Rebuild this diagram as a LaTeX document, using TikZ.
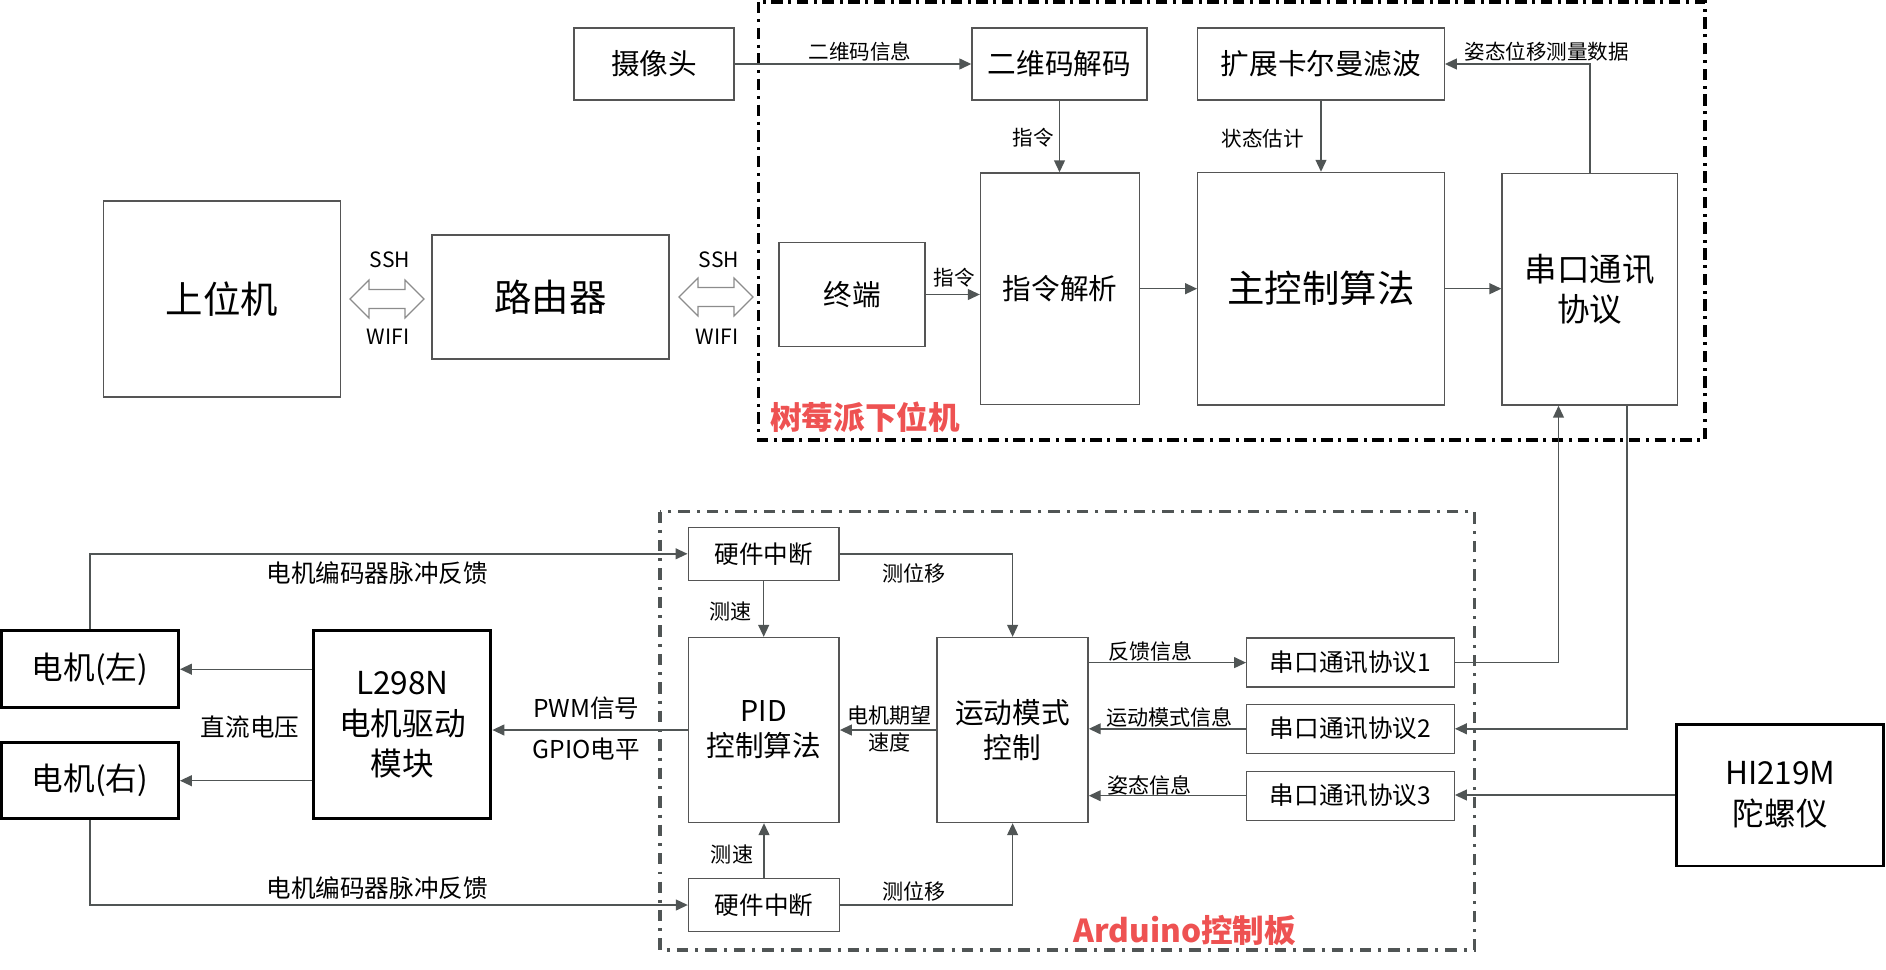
\documentclass[tikz,border=0pt]{standalone}
\usepackage{fontspec}
\setmainfont{Noto Sans CJK SC}
\usepackage{tikz}
\usetikzlibrary{arrows.meta,calc}
\definecolor{boxgray}{RGB}{85,85,85}
\definecolor{linegray}{RGB}{80,85,85}
\definecolor{dblgray}{RGB}{140,140,140}
\definecolor{titlered}{RGB}{238,82,82}

\begin{document}
\begin{tikzpicture}[x=0.02cm, y=-0.02cm,
    box/.style={draw=boxgray, line width=0.8pt, inner sep=0pt, align=center},
    thickbox/.style={draw=black, line width=1.7pt, inner sep=0pt, align=center},
    arr/.style={draw=linegray, line width=0.8pt, -{Triangle[length=6.8pt,width=6.2pt]}},
    dblarr/.style={draw=dblgray, fill=white, line width=0.7pt},
    pibound/.style={draw=black, line width=2pt, dash pattern=on 6.5pt off 3.2pt on 1.7pt off 3.2pt},
    ardbound/.style={draw=linegray, line width=2pt, dash pattern=on 6.5pt off 4pt on 1.7pt off 4pt},
    fbig/.style={font={\fontsize{21.3}{26}\selectfont}},
    fser/.style={font={\fontsize{18.5}{22.8}\selectfont}},
    fmid/.style={font={\fontsize{16.3}{19.9}\selectfont}},
    fmot/.style={font={\fontsize{18}{23.3}\selectfont}},
    fhw/.style={font={\fontsize{14}{17}\selectfont}},
    lab/.style={inner sep=0pt, font={\fontsize{11.7}{14}\selectfont}},
    labsm/.style={inner sep=0pt, font={\fontsize{12}{15.2}\selectfont}},
    labhw/.style={inner sep=0pt, font={\fontsize{14}{17}\selectfont}},
    title/.style={inner sep=0pt, text=titlered, font={\fontsize{18}{22}\selectfont\bfseries}}]
  \useasboundingbox (0,0) rectangle (1886,970);

  % raspberry pi part
  \draw[pibound] (758.7,2) rectangle (1705,440);
  \node (pititle) at (770,417) [title, anchor=west] {树莓派下位机};

  \node (cam)     at (654,64)      [box, fmid, minimum width=3.2cm,  minimum height=1.44cm] {摄像头};
  \node (qrdec)   at (1059.5,64)   [box, fmid, minimum width=3.5cm,  minimum height=1.44cm] {二维码解码};
  \node (ekf)     at (1321,64)     [box, fmid, minimum width=4.93cm, minimum height=1.44cm] {扩展卡尔曼滤波};
  \node (host)    at (222,299)     [box, fbig, minimum width=4.75cm, minimum height=3.92cm] {上位机};
  \node (router)  at (550.5,297)   [box, fbig, minimum width=4.74cm, minimum height=2.48cm] {路由器};
  \node (term)    at (852,294.5)   [box, fmid, minimum width=2.92cm, minimum height=2.09cm] {终端};
  \node (cmd)     at (1060,288.7)  [box, fmid, minimum width=3.18cm, minimum height=4.63cm] {指令解析};
  \node (mainctl) at (1321,288.7)  [box, fbig, minimum width=4.93cm, minimum height=4.65cm] {主控制算法};
  \node (serial)  at (1589.8,289.3)[box, fser, minimum width=3.51cm, minimum height=4.63cm] {串口通讯\\协议};

  \draw[arr] (cam) -- (qrdec);
  \draw[arr] (qrdec.south) -- (qrdec.south |- cmd.north);
  \draw[arr] (ekf.south) -- (ekf.south |- mainctl.north);
  \draw[arr] (serial.north) |- (ekf.east);
  \draw[arr] (term.east) -- (term.east -| cmd.west);
  \draw[arr] (cmd) -- (mainctl);
  \draw[arr] (mainctl.east) -- (mainctl.east -| serial.west);

  \node (lqr)    at (860,51.7)    [lab] {二维码信息};
  \node (lcmda)  at (1033,138)    [lab] {指令};
  \node (lstate) at (1262.6,138.3)[lab] {状态估计};
  \node (lmeas)  at (1546.7,51.7) [lab] {姿态位移测量数据};
  \node (lcmdb)  at (954,278)     [lab] {指令};

  % ssh links
  \foreach \cx/\cy/\nm in {387/299/a, 716/297/b}
  {
    \draw[dblarr] (\cx-37,\cy) -- (\cx-18,\cy-19) -- (\cx-18,\cy-9.5) -- (\cx+18,\cy-9.5)
      -- (\cx+18,\cy-19) -- (\cx+37,\cy) -- (\cx+18,\cy+19) -- (\cx+18,\cy+9.5)
      -- (\cx-18,\cy+9.5) -- (\cx-18,\cy+19) -- cycle;
    \node (ssh\nm)  at (\cx+3,260)  [lab, font={\fontsize{12}{14}\selectfont}] {SSH};
    \node (wifi\nm) at (\cx+1,337)  [lab, font={\fontsize{12}{14}\selectfont}] {WIFI};
  }

  % arduino part
  \draw[ardbound] (660,511.5) rectangle (1474.5,950);
  \node (ardtitle) at (1184.7,930) [title] {Arduino控制板};

  \node (hwA)    at (763.7,553.8) [box, fhw,  minimum width=3.02cm, minimum height=1.06cm] {硬件中断};
  \node (hwB)    at (764,905)     [box, fhw,  minimum width=3.02cm, minimum height=1.06cm] {硬件中断};
  \node (pid)    at (763.7,730)   [box, fmid, minimum width=3.02cm, minimum height=3.70cm] {PID\\控制算法};
  \node (motion) at (1012.6,730)  [box, fmid, minimum width=3.02cm, minimum height=3.70cm] {运动模式\\控制};
  \foreach \n/\yy in {1/662.6, 2/728.8, 3/795.7}
    \node (ser\n) at (1350.5,\yy) [box, fhw, minimum width=4.15cm, minimum height=0.98cm] {串口通讯协议\n};
  \node (gyro)   at (1780.3,795)  [thickbox, fmot, minimum width=4.14cm, minimum height=2.84cm] {HI219M\\陀螺仪};
  \node (motorL) at (90,669.2)    [thickbox, fmot, minimum width=3.54cm, minimum height=1.54cm] {电机(左)};
  \node (motorR) at (90,780.7)    [thickbox, fmot, minimum width=3.54cm, minimum height=1.52cm] {电机(右)};
  \node (l298)   at (402.4,724.7) [thickbox, fmot, minimum width=3.54cm, minimum height=3.76cm] {L298N\\电机驱动\\模块};

  \draw[arr] (motorL.north) |- (hwA.west);
  \draw[arr] (motorR.south) |- (hwB.west);
  \draw[arr] (l298.west |- motorL) -- (motorL.east);
  \draw[arr] (l298.west |- motorR) -- (motorR.east);
  \draw[arr] (pid.west) -- (pid.west -| l298.east);
  \draw[arr] (hwA.south) -- (hwA.south |- pid.north);
  \draw[arr] (hwA.east) -| (motion.north);
  \draw[arr] (hwB.north) -- (hwB.north |- pid.south);
  \draw[arr] (hwB.east) -| (motion.south);
  \draw[arr] (motion.west) -- (pid.east);
  \draw[arr] (motion.east |- ser1) -- (ser1.west);
  \draw[arr] (ser2.west) -- (ser2.west -| motion.east);
  \draw[arr] (ser3.west) -- (ser3.west -| motion.east);
  \draw[arr] (ser1.east) -| ([xshift=-0.626cm]serial.south);
  \draw[arr] ([xshift=0.744cm]serial.south) |- (ser2.east);
  \draw[arr] (gyro.west) -- (gyro.west -| ser3.east);

  \node (lencA)  at (377.2,573.3)  [labhw] {电机编码器脉冲反馈};
  \node (lencB)  at (377.2,888.3)  [labhw] {电机编码器脉冲反馈};
  \node (ldc)    at (250,727.3)    [labhw] {直流电压};
  \node (lpwm)   at (586.2,708.3)  [labhw] {PWM信号};
  \node (lgpio)  at (586.2,749.3)  [labhw] {GPIO电平};
  \node (lspdA)  at (730.7,611.7)  [labsm] {测速};
  \node (lspdB)  at (732,854)      [labsm] {测速};
  \node (ldisA)  at (914.4,573.3)  [labsm] {测位移};
  \node (ldisB)  at (913.7,891.7)  [labsm] {测位移};
  \node (lwant)  at (889.7,716)    [labsm] {电机期望};
  \node (lspeed) at (889.7,742.7)  [labsm] {速度};
  \node (lfb)    at (1150.9,651.7) [labsm] {反馈信息};
  \node (lmode)  at (1169.3,717.3) [labsm] {运动模式信息};
  \node (latt)   at (1149.2,785.7) [labsm] {姿态信息};
\end{tikzpicture}
\end{document}
